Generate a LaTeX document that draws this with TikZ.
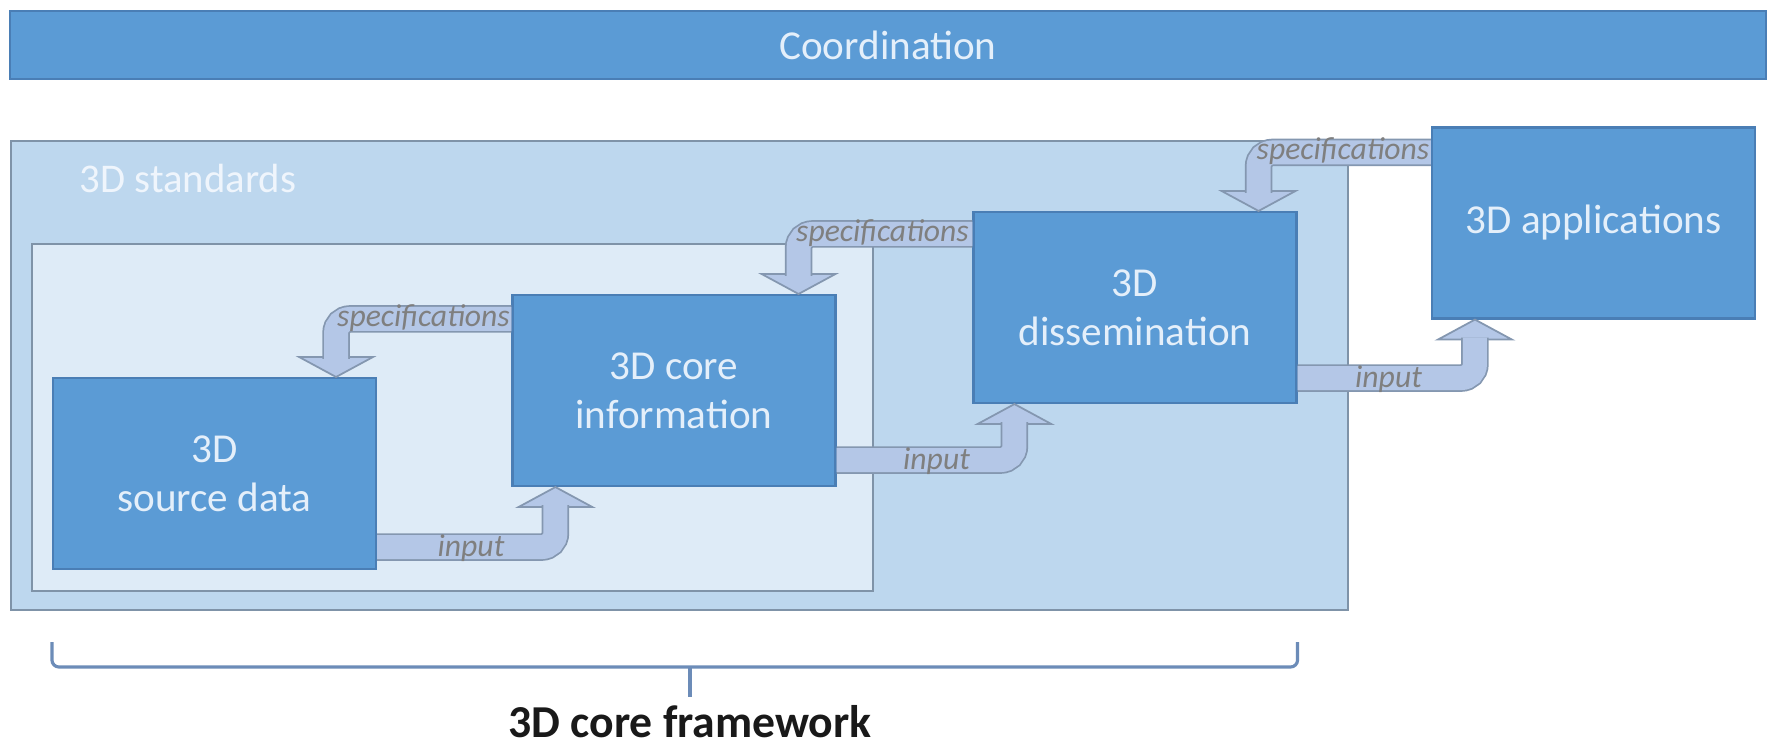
\documentclass[tikz,border=0pt]{standalone}
\usepackage{fontspec}
\setmainfont{Carlito}
\usepackage{tikz}
\usetikzlibrary{calc}

\definecolor{boxblue}{HTML}{5B9BD5}
\definecolor{boxedge}{HTML}{4A7EB5}
\definecolor{boxtext}{HTML}{E4EFFA}
\definecolor{stdfill}{HTML}{BDD7EE}
\definecolor{stdedge}{HTML}{7F93A8}
\definecolor{innerfill}{HTML}{DEEBF7}
\definecolor{arrowfill}{HTML}{B4C7E7}
\definecolor{arrowedge}{HTML}{8497B0}
\definecolor{labelgray}{HTML}{7F7F7F}
\definecolor{bracecol}{HTML}{6C8CB8}

\tikzset{
  block/.style={draw=boxedge, line width=0.6pt, fill=boxblue, text=boxtext,
    minimum width=3.23cm, minimum height=1.91cm, inner sep=0pt, align=center,
    font=\fontsize{11.7}{14}\selectfont},
  bar/.style={draw=boxedge, line width=0.6pt, fill=boxblue, text=boxtext,
    minimum width=17.56cm, minimum height=0.68cm, inner sep=0pt,
    font=\fontsize{11.7}{14}\selectfont},
  stdbox/.style={draw=stdedge, line width=0.8pt, fill=stdfill, inner sep=0pt},
  innerbox/.style={draw=stdedge, line width=0.8pt, fill=innerfill, inner sep=0pt},
  fatshaft/.style={draw=arrowedge, line width=0.5pt, double=arrowfill,
    double distance=0.24cm, rounded corners=0.14cm},
  flowlabel/.style={text=labelgray, inner sep=0pt,
    font=\fontsize{9}{10}\selectfont\itshape},
  bracket/.style={draw=bracecol, line width=0.9pt, rounded corners=2pt},
  fathead/.pic={\draw[draw=arrowedge, line width=0.5pt, fill=arrowfill]
    (-0.37,-0.2) -- (0,0) -- (0.37,-0.2) -- cycle;}
}

\begin{document}
\begin{tikzpicture}
  \fill[white] (0,0) rectangle (17.75,-7.49);
  \useasboundingbox (0,0) rectangle (17.75,-7.49);

  % coordination bar
  \node[bar] (coord) at (8.88,-0.45) {Coordination};

  % standards and core containers
  \node[stdbox, minimum width=13.37cm, minimum height=4.69cm] (std) at (6.795,-3.755) {};
  \node[text=boxtext!60!white, anchor=west, inner sep=0pt,
    font=\fontsize{11.6}{14}\selectfont] (stdlabel) at (0.79,-1.78) {3D standards};
  \node[innerbox, minimum width=8.41cm, minimum height=3.47cm] (inner) at (4.525,-4.175) {};

  % blocks
  \node[block] (src) at (2.145,-4.735) {3D\\source data};
  \node[block] (core) at (6.74,-3.905) {3D core\\information};
  \node[block] (dis) at (11.35,-3.075) {3D\\dissemination};
  \node[block] (app) at (15.935,-2.23) {3D applications};

  % specifications arrows
  \pic[rotate=180] at ($(src.north east)+(-0.41,0)$) {fathead};
  \draw[fatshaft] ($(core.north west)+(0,-0.25)$) -| ($(src.north east)+(-0.41,0.18)$);
  \node[flowlabel] (specA) at ($(core.north west)+(-0.88,-0.24)$) {specifications};

  \pic[rotate=180] at ($(core.north east)+(-0.38,0)$) {fathead};
  \draw[fatshaft] ($(dis.north west)+(0,-0.23)$) -| ($(core.north east)+(-0.38,0.18)$);
  \node[flowlabel] (specB) at ($(dis.north west)+(-0.90,-0.22)$) {specifications};

  \pic[rotate=180] at ($(dis.north east)+(-0.39,0)$) {fathead};
  \draw[fatshaft] ($(app.north west)+(0,-0.26)$) -| ($(dis.north east)+(-0.39,0.18)$);
  \node[flowlabel] (specC) at ($(app.north west)+(-0.88,-0.25)$) {specifications};

  % input arrows
  \pic at ($(core.south west)+(0.44,0)$) {fathead};
  \draw[fatshaft] ($(src.south east)+(0,0.23)$) -| ($(core.south west)+(0.44,-0.18)$);
  \node[flowlabel] (inA) at ($(src.south east)+(0.94,0.22)$) {input};

  \pic at ($(dis.south west)+(0.42,0)$) {fathead};
  \draw[fatshaft] ($(core.south east)+(0,0.27)$) -| ($(dis.south west)+(0.42,-0.18)$);
  \node[flowlabel] (inB) at ($(core.south east)+(1.00,0.26)$) {input};

  \pic at ($(app.south west)+(0.44,0)$) {fathead};
  \draw[fatshaft] ($(dis.south east)+(0,0.26)$) -| ($(app.south west)+(0.44,-0.18)$);
  \node[flowlabel] (inC) at ($(dis.south east)+(0.91,0.25)$) {input};

  % core framework brace
  \node[font=\fontsize{13}{15}\selectfont\bfseries, text=black!90, inner sep=0pt]
    (frame) at (6.90,-7.22) {3D core framework};
  \draw[bracket] (src.west |- 0,-6.42) -- (src.west |- 0,-6.67)
    -- (dis.east |- 0,-6.67) -- (dis.east |- 0,-6.42);
  \draw[bracket, shorten >=0.08cm] (frame.north |- 0,-6.67) -- (frame.north);
\end{tikzpicture}
\end{document}
